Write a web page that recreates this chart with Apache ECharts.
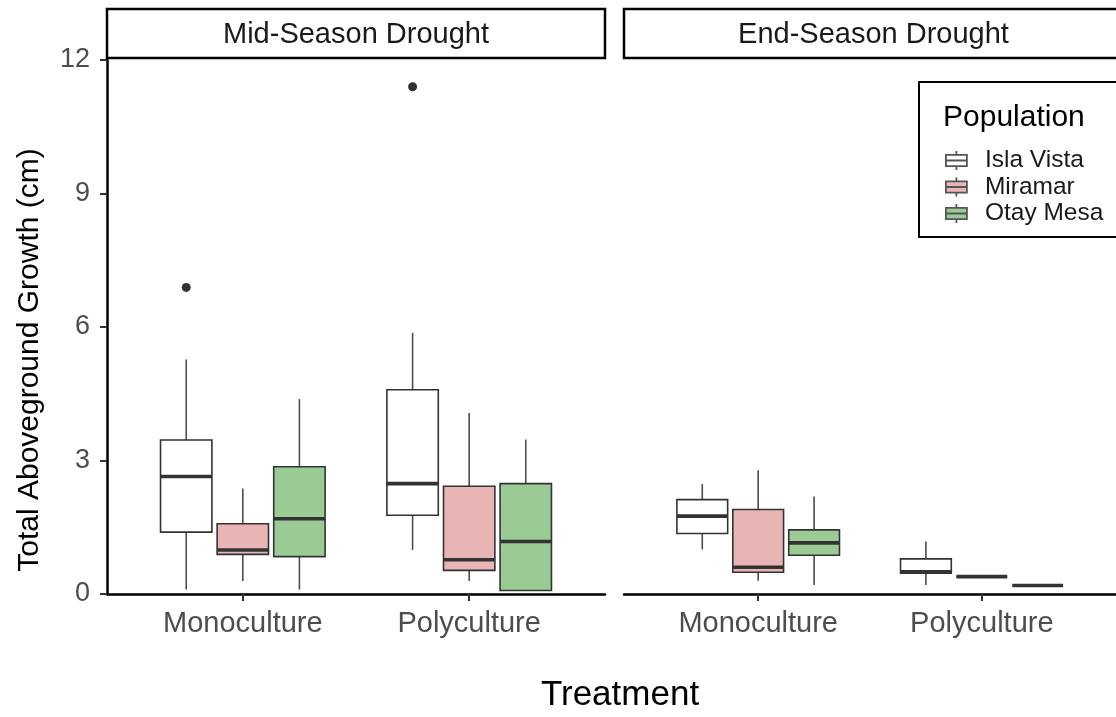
<!DOCTYPE html>
<html><head><meta charset="utf-8">
<script src="https://cdn.jsdelivr.net/npm/echarts@6/dist/echarts.min.js"></script>
<style>html,body{margin:0;padding:0;background:#fff}#c{width:1116px;height:717px}</style>
</head><body><div id="c"></div><script>
// ---- data ----
const facets = ['Mid-Season Drought', 'End-Season Drought'];
const treatments = ['Monoculture', 'Polyculture'];
const populations = ['Isla Vista', 'Miramar', 'Otay Mesa'];
const popColors = ['#FFFFFF', '#E8B4B4', '#9ACB94'];
const yTicks = [0, 3, 6, 9, 12];
// box stats per population: [lower whisker, Q1, median, Q3, upper whisker]
const midMono = [[0.10, 1.39, 2.64, 3.46, 5.27], [0.29, 0.89, 0.99, 1.58, 2.37], [0.10, 0.84, 1.69, 2.86, 4.38]];
const midPoly = [[0.99, 1.77, 2.48, 4.59, 5.87], [0.29, 0.53, 0.77, 2.42, 4.07], [0.08, 0.08, 1.18, 2.48, 3.47]];
const endMono = [[1.00, 1.36, 1.75, 2.12, 2.47], [0.30, 0.49, 0.60, 1.90, 2.78], [0.20, 0.87, 1.15, 1.44, 2.19]];
const endPoly = [[0.20, 0.47, 0.50, 0.79, 1.18], [0.39, 0.39, 0.39, 0.39, 0.39], [0.19, 0.19, 0.19, 0.19, 0.19]];
// outliers: [facet, treatment, population, value]
const outliers = [[0, 0, 0, 6.89], [0, 1, 0, 11.40]];

const stats = [[midMono, midPoly], [endMono, endPoly]];
const DODGE = 0.25, BOX_W = 0.227;
const FONT = "'Liberation Sans', Arial, Helvetica, sans-serif";
const LINE = '#333333';

const chart = echarts.init(document.getElementById('c'), null, {renderer: 'canvas'});

const grids = [
  {left: 107, top: 60, width: 498, height: 534},
  {left: 624, top: 60, width: 499, height: 534}
];

function renderBox(params, api) {
  const t = api.value(0), p = api.value(1);
  const x = t + (p - 1) * DODGE;
  const lo = api.coord([x, api.value(2)]);
  const q1 = api.coord([x, api.value(3)]);
  const md = api.coord([x, api.value(4)]);
  const q3 = api.coord([x, api.value(5)]);
  const hi = api.coord([x, api.value(6)]);
  const w = api.size([BOX_W, 0])[0];
  const cx = lo[0];
  const fill = api.visual('color');
  return {type: 'group', children: [
    {type: 'line', shape: {x1: cx, y1: hi[1], x2: cx, y2: q3[1]}, style: {stroke: '#4d4d4d', lineWidth: 1.6}},
    {type: 'line', shape: {x1: cx, y1: q1[1], x2: cx, y2: lo[1]}, style: {stroke: '#4d4d4d', lineWidth: 1.6}},
    {type: 'rect', shape: {x: cx - w / 2, y: q3[1], width: w, height: q1[1] - q3[1]},
      style: {fill: fill, stroke: LINE, lineWidth: 1.6}},
    {type: 'line', shape: {x1: cx - w / 2, y1: md[1], x2: cx + w / 2, y2: md[1]}, style: {stroke: LINE, lineWidth: 3.6}}
  ]};
}

const xAxes = grids.map((g, i) => ({
  gridIndex: i, type: 'value', min: 0.4, max: 2.6,
  splitLine: {show: false},
  axisLine: {show: true, onZero: false, lineStyle: {color: '#000', width: 2.5}},
  axisTick: {show: true, customValues: [1, 2], length: 7, lineStyle: {color: LINE, width: 2}},
  axisLabel: {show: true, customValues: [1, 2], margin: 15, color: '#4d4d4d', fontSize: 29, fontFamily: FONT,
    formatter: v => treatments[Math.round(v) - 1]}
}));
const yAxes = grids.map((g, i) => ({
  gridIndex: i, type: 'value', min: yTicks[0], max: yTicks[yTicks.length - 1], interval: 3,
  splitLine: {show: false},
  axisLine: {show: i === 0, lineStyle: {color: '#000', width: 2.5}},
  axisTick: {show: i === 0, length: 7, lineStyle: {color: LINE, width: 2}},
  axisLabel: {show: i === 0, margin: 17, color: '#4d4d4d', fontSize: 27, fontFamily: FONT},
  name: i === 0 ? 'Total Aboveground Growth (cm)' : '',
  nameLocation: 'middle', nameGap: 62, nameRotate: 90,
  nameTextStyle: {color: '#000', fontSize: 30, fontFamily: FONT, padding: [0, 66, 0, 0]}
}));

const series = [];
facets.forEach((f, fi) => {
  populations.forEach((pop, pi) => {
    series.push({
      type: 'custom', name: pop, xAxisIndex: fi, yAxisIndex: fi,
      itemStyle: {color: popColors[pi], borderColor: LINE, borderWidth: 1.5},
      renderItem: renderBox,
      encode: {x: 0, y: [2, 3, 4, 5, 6]},
      data: treatments.map((t, ti) => [ti + 1, pi].concat(stats[fi][ti][pi]))
    });
  });
  series.push({
    type: 'scatter', name: 'outliers-' + fi, xAxisIndex: fi, yAxisIndex: fi,
    symbolSize: 9, itemStyle: {color: LINE, opacity: 1},
    data: outliers.filter(o => o[0] === fi).map(o => [o[1] + 1 + (o[2] - 1) * DODGE, o[3]])
  });
});

const graphic = [];
facets.forEach((f, fi) => {
  const g = grids[fi];
  graphic.push({type: 'rect', shape: {x: g.left, y: 9, width: g.width, height: 49},
    style: {fill: '#fff', stroke: '#000', lineWidth: 2.5}, z: 10});
  graphic.push({type: 'text', x: g.left + g.width / 2, y: 35,
    style: {text: f, fill: '#1a1a1a', fontSize: 29, fontFamily: FONT, align: 'center', verticalAlign: 'middle'}, z: 11});
});
// x axis title
graphic.push({type: 'text', x: 620, y: 695,
  style: {text: 'Treatment', fill: '#000', fontSize: 35, fontFamily: FONT, align: 'center', verticalAlign: 'middle'}});
// legend frame + title
graphic.push({type: 'rect', shape: {x: 919, y: 82, width: 210, height: 155},
  style: {fill: '#fff', stroke: '#000', lineWidth: 2}, z: 20});
graphic.push({type: 'text', x: 943, y: 118,
  style: {text: 'Population', fill: '#000', fontSize: 30, fontFamily: FONT, align: 'left', verticalAlign: 'middle'}, z: 21});

const option = {
  backgroundColor: '#fff',
  animation: false,
  grid: grids,
  xAxis: xAxes,
  yAxis: yAxes,
  series: series,
  graphic: graphic,
  legend: {
    data: populations, orient: 'vertical', left: 940, top: 143, z: 30, padding: 5,
    itemWidth: 21, itemHeight: 19, itemGap: 1.5, symbolKeepAspect: false,
    icon: 'path://M0,4H21V15.5H0Z M0,9.75H21 M10.5,0V4 M10.5,15.5V19.5',
    itemStyle: {borderColor: '#555', borderWidth: 1.8},
    textStyle: {fontSize: 24.5, fontFamily: FONT, color: '#1a1a1a', lineHeight: 19, padding: [0, 0, 0, 13]},
    selectedMode: false
  }
};
chart.setOption(option);
</script></body></html>
